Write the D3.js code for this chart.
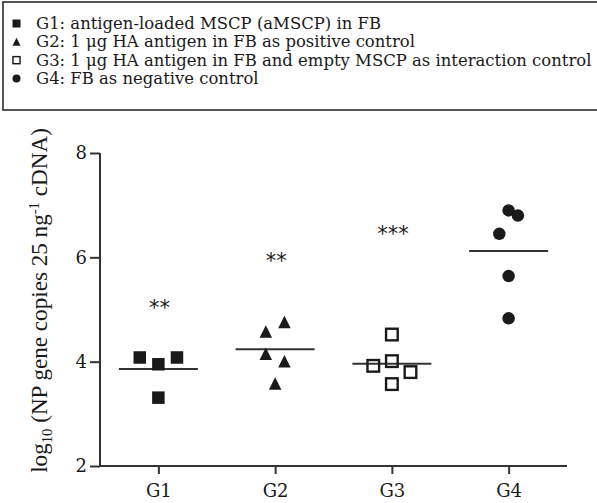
<!DOCTYPE html>
<html>
<head>
<meta charset="utf-8">
<script src="https://cdn.jsdelivr.net/npm/d3@7"></script>
<style>
  html, body { margin: 0; padding: 0; background: #fff; }
  svg { display: block; }
  text { font-family: "DejaVu Serif", "Liberation Serif", serif; fill: #1a1a1a; }
</style>
</head>
<body>
<svg id="chart" width="597" height="503"></svg>
<script>
// ---------------- data ----------------
const categories = ["G1", "G2", "G3", "G4"];
const legendLabels = [
  "G1: antigen-loaded MSCP (aMSCP) in FB",
  "G2: 1 \u03bcg HA antigen in FB as positive control",
  "G3: 1 \u03bcg HA antigen in FB and empty MSCP as interaction control",
  "G4: FB as negative control"
];
const markerShapes = ["square", "triangle", "openSquare", "circle"];
const g1Values = [4.08, 3.95, 4.08, 3.31];
const g2Values = [4.58, 4.76, 4.15, 4.01, 3.58];
const g3Values = [4.52, 3.92, 4.01, 3.80, 3.57];
const g4Values = [6.90, 6.80, 6.45, 5.64, 4.83];
const g1Jitter = [-1, 0, 1, 0];
const g2Jitter = [-0.5, 0.5, -0.5, 0.5, 0];
const g3Jitter = [0, -1, 0, 1, 0];
const g4Jitter = [0, 0.5, -0.5, 0, 0];
const groupMeans = [3.86, 4.24, 3.96, 6.12];
const significance = ["**", "**", "***", ""];
const significanceLevel = [5.11, 6.02, 6.54, null];
const yTicks = [2, 4, 6, 8];

const groups = [
  { values: g1Values, jitter: g1Jitter },
  { values: g2Values, jitter: g2Jitter },
  { values: g3Values, jitter: g3Jitter },
  { values: g4Values, jitter: g4Jitter }
];

// ---------------- helpers ----------------
const svg = d3.select("#chart");
const ink = "#1a1a1a";
const axisColor = "#333";

// scale a text element (and its tspans) so that its width matches a target
function fitWidth(sel, target) {
  const node = sel.node();
  const w = node.getComputedTextLength();
  if (!w) return;
  const k = target / w;
  const fs = parseFloat(sel.style("font-size"));
  sel.style("font-size", (fs * k) + "px");
  sel.selectAll("tspan").each(function () {
    const t = d3.select(this);
    const inline = this.style.fontSize;
    if (inline) t.style("font-size", (parseFloat(inline) * k) + "px");
    const dy = t.attr("dy");
    if (dy) t.attr("dy", parseFloat(dy) * k);
  });
}

function drawMarker(sel, shape, size) {
  const h = size / 2;
  if (shape === "square") {
    sel.append("rect").attr("x", -h).attr("y", -h).attr("width", size).attr("height", size).attr("fill", ink);
  } else if (shape === "openSquare") {
    const sw = size * 0.17;
    sel.append("rect").attr("x", -h + sw / 2).attr("y", -h + sw / 2)
      .attr("width", size - sw).attr("height", size - sw)
      .attr("fill", "none").attr("stroke", ink).attr("stroke-width", sw);
  } else if (shape === "triangle") {
    sel.append("path").attr("d", `M0,${-h}L${h},${h}L${-h},${h}Z`).attr("fill", ink);
  } else {
    sel.append("circle").attr("r", h).attr("fill", ink);
  }
}

// ---------------- scales ----------------
const x = d3.scalePoint().domain(categories).range([100, 567]).padding(0.5);
const y = d3.scaleLinear().domain([2, 8]).range([466, 153]);
const jit = d3.scaleLinear().domain([-1, 1]).range([-18.6, 18.6]);

// ---------------- legend ----------------
svg.append("rect").attr("x", 3).attr("y", 2).attr("width", 600).attr("height", 108)
  .attr("fill", "none").attr("stroke", "#2a2a2a").attr("stroke-width", 1.6);

const legendRow = d3.scaleLinear().domain([0, 3]).range([29, 84]);
const legendTexts = [];
legendLabels.forEach((lab, i) => {
  const m = svg.append("g").attr("transform", `translate(16.5,${legendRow(i) - 5.5})`);
  drawMarker(m, markerShapes[i], i === 2 ? 8.5 : 8);
  legendTexts.push(svg.append("text").attr("x", 36).attr("y", legendRow(i))
    .style("font-size", "17px").text(lab));
});
{
  const longest = legendTexts[2];
  fitWidth(longest, 556);
  const fs = longest.style("font-size");
  legendTexts.forEach(t => t.style("font-size", fs));
}

// ---------------- axes ----------------
const yAxis = svg.append("g").attr("transform", "translate(100,0)")
  .call(d3.axisLeft(y).tickValues(yTicks).tickSize(10).tickPadding(3).tickFormat(d3.format("d")));
const xAxis = svg.append("g").attr("transform", "translate(0,466)")
  .call(d3.axisBottom(x).tickSize(8).tickPadding(10));

[yAxis, xAxis].forEach(a => {
  a.select(".domain").attr("stroke", axisColor).attr("stroke-width", 2);
  a.selectAll(".tick line").attr("stroke", axisColor).attr("stroke-width", 2);
  a.selectAll(".tick text").attr("fill", ink)
    .style("font-family", '"DejaVu Serif", serif').style("font-size", "18px");
});
xAxis.select(".domain").attr("d", `M99,0H${x.range()[1]}`);
yAxis.select(".domain").attr("d", `M0,${y(8)}V${y(2) + 1}`);

// y-axis title
const yTitle = svg.append("text")
  .attr("transform", `translate(47,${(y(8) + y(2)) / 2 - 9}) rotate(-90)`)
  .attr("text-anchor", "middle")
  .style("font-family", '"Liberation Serif", serif')
  .style("font-size", "22px");
yTitle.append("tspan").text("log");
yTitle.append("tspan").attr("dy", 5).style("font-size", "14px").text("10");
yTitle.append("tspan").attr("dy", -5).text(" (NP gene copies 25 ng");
yTitle.append("tspan").attr("dy", -8).style("font-size", "14px").text("-1");
yTitle.append("tspan").attr("dy", 8).text(" cDNA)");
fitWidth(yTitle, 345);

// ---------------- points ----------------
const plot = svg.append("g");
groups.forEach((g, gi) => {
  const cx = x(categories[gi]);
  plot.append("line")
    .attr("x1", cx - 39.5).attr("x2", cx + 39.5)
    .attr("y1", y(groupMeans[gi])).attr("y2", y(groupMeans[gi]))
    .attr("stroke", axisColor).attr("stroke-width", 2);
  g.values.forEach((v, i) => {
    const m = plot.append("g").attr("transform", `translate(${cx + jit(g.jitter[i])},${y(v)})`);
    drawMarker(m, markerShapes[gi], markerShapes[gi] === "openSquare" ? 14 : 12.5);
  });
  if (significance[gi]) {
    plot.append("text")
      .attr("x", cx + 1).attr("y", y(significanceLevel[gi]) + 11.5)
      .attr("text-anchor", "middle")
      .style("font-family", '"DejaVu Sans", sans-serif').style("font-size", "21px")
      .text(significance[gi]);
  }
});
</script>
</body>
</html>
